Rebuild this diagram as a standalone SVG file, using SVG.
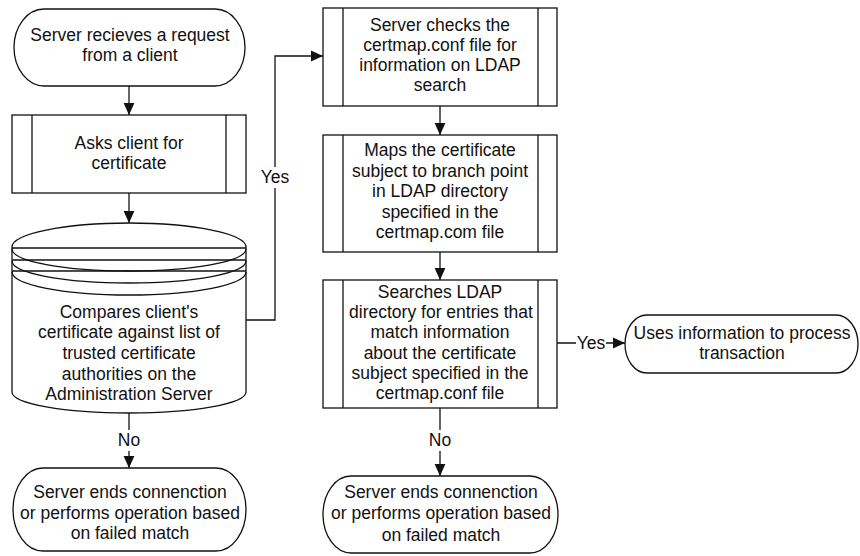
<svg xmlns="http://www.w3.org/2000/svg" width="860" height="556" viewBox="0 0 860 556">
<style>
  .shape { fill: #fff; stroke: #111; stroke-width: 1.3; }
  .ln { fill: none; stroke: #111; stroke-width: 1.3; }
  text { font-family: "Liberation Sans", Arial, sans-serif; font-size: 17.5px; fill: #111; text-anchor: middle; }
  .lbl { fill: #fff; stroke: none; }
</style>
<defs>
  <marker id="arr" markerUnits="userSpaceOnUse" markerWidth="12" markerHeight="12" viewBox="0 0 10 10" refX="10" refY="5" orient="auto">
    <path d="M0,0.5 L10,5 L0,9.5 Z" fill="#111"/>
  </marker>
</defs>

<g id="connectors">
  <line class="ln" x1="129" y1="86" x2="129" y2="115" marker-end="url(#arr)"/>
  <line class="ln" x1="129" y1="193" x2="129" y2="223" marker-end="url(#arr)"/>
  <polyline class="ln" points="246,320 275,320 275,56 323,56" marker-end="url(#arr)"/>
  <rect class="lbl" x="260" y="167" width="30" height="21"/>
  <text x="275" y="183">Yes</text>
  <line class="ln" x1="129" y1="413" x2="129" y2="468" marker-end="url(#arr)"/>
  <rect class="lbl" x="116" y="430" width="26" height="21"/>
  <text x="129" y="446">No</text>
  <line class="ln" x1="440" y1="106" x2="440" y2="135" marker-end="url(#arr)"/>
  <line class="ln" x1="440" y1="252" x2="440" y2="280" marker-end="url(#arr)"/>
  <line class="ln" x1="440" y1="408" x2="440" y2="476" marker-end="url(#arr)"/>
  <rect class="lbl" x="427" y="430" width="26" height="21"/>
  <text x="440" y="446">No</text>
  <line class="ln" x1="557" y1="343" x2="625" y2="343" marker-end="url(#arr)"/>
  <rect class="lbl" x="576" y="333" width="30" height="21"/>
  <text x="591" y="349">Yes</text>
</g>

<g id="start">
  <rect class="shape" x="14" y="9" width="231" height="77" rx="30" ry="38.5"/>
  <text x="130" y="41">Server recieves a request</text>
  <text x="130" y="61">from a client</text>
</g>

<g id="ask">
  <rect class="shape" x="12" y="115" width="234" height="78"/>
  <line class="ln" x1="32" y1="115" x2="32" y2="193"/>
  <line class="ln" x1="226" y1="115" x2="226" y2="193"/>
  <text x="129" y="149">Asks client for</text>
  <text x="129" y="169">certificate</text>
</g>

<g id="compare">
  <path class="shape" d="M12,247 A117,24 0 0 1 246,247 L246,392 A117,21 0 0 1 12,392 Z"/>
  <line class="ln" x1="12" y1="248" x2="246" y2="248"/>
  <path class="ln" d="M12,249 A117,22 0 0 0 246,249"/>
  <line class="ln" x1="12" y1="260" x2="246" y2="260"/>
  <path class="ln" d="M12,261 A117,22 0 0 0 246,261"/>
  <line class="ln" x1="12" y1="271" x2="246" y2="271"/>
  <path class="ln" d="M12,272 A117,23 0 0 0 246,272"/>
  <text x="129" y="318">Compares client's</text>
  <text x="129" y="338">certificate against list of</text>
  <text x="129" y="359">trusted certificate</text>
  <text x="129" y="380">authorities on the</text>
  <text x="129" y="400">Administration Server</text>
</g>

<g id="end-left">
  <rect class="shape" x="13" y="468" width="233" height="83" rx="30" ry="41.5"/>
  <text x="130" y="498">Server ends connenction</text>
  <text x="130" y="519">or performs operation based</text>
  <text x="130" y="539">on failed match</text>
</g>

<g id="check">
  <rect class="shape" x="323" y="8" width="234" height="98"/>
  <line class="ln" x1="343" y1="8" x2="343" y2="106"/>
  <line class="ln" x1="538" y1="8" x2="538" y2="106"/>
  <text x="440" y="31">Server checks the</text>
  <text x="440" y="51">certmap.conf file for</text>
  <text x="440" y="71">information on LDAP</text>
  <text x="440" y="91">search</text>
</g>

<g id="map">
  <rect class="shape" x="323" y="135" width="234" height="117"/>
  <line class="ln" x1="343" y1="135" x2="343" y2="252"/>
  <line class="ln" x1="538" y1="135" x2="538" y2="252"/>
  <text x="440" y="156">Maps the certificate</text>
  <text x="440" y="177">subject to branch point</text>
  <text x="440" y="197">in LDAP directory</text>
  <text x="440" y="218">specified in the</text>
  <text x="440" y="238">certmap.com file</text>
</g>

<g id="search">
  <rect class="shape" x="323" y="280" width="234" height="128"/>
  <line class="ln" x1="343" y1="280" x2="343" y2="408"/>
  <line class="ln" x1="538" y1="280" x2="538" y2="408"/>
  <text x="440" y="298">Searches LDAP</text>
  <text x="441" y="318">directory for entries that</text>
  <text x="440" y="338">match information</text>
  <text x="440" y="359">about the certificate</text>
  <text x="440" y="379">subject specified in the</text>
  <text x="440" y="399">certmap.conf file</text>
</g>

<g id="use">
  <rect class="shape" x="625" y="315" width="233" height="58" rx="22" ry="29"/>
  <text x="742" y="339">Uses information to process</text>
  <text x="742" y="359">transaction</text>
</g>

<g id="end-right">
  <rect class="shape" x="323" y="476" width="235" height="77" rx="28" ry="38.5"/>
  <text x="441" y="498">Server ends connenction</text>
  <text x="441" y="519">or performs operation based</text>
  <text x="441" y="541">on failed match</text>
</g>
</svg>
